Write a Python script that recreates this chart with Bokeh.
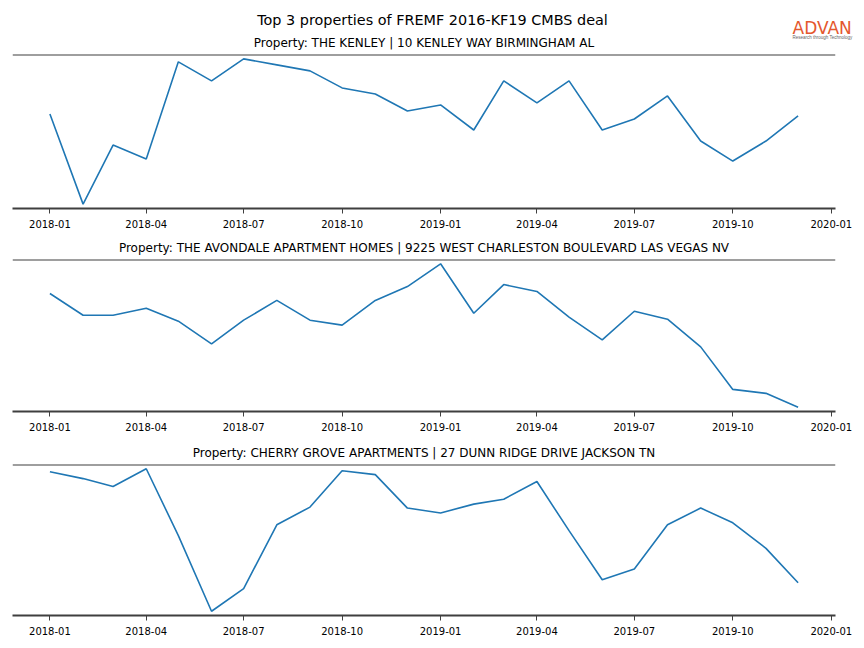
import pandas as pd
from bokeh.plotting import figure
from bokeh.models import Range1d, FixedTicker, DatetimeTickFormatter, Span, Label
from bokeh.layouts import column, row
from bokeh.embed import file_html
from bokeh.resources import INLINE

suptitle = "Top 3 properties of FREMF 2016-KF19 CMBS deal"
logo_text = "ADVAN"
logo_tagline = "Research through Technology"
months = ["2018-01", "2018-02", "2018-03", "2018-04", "2018-05", "2018-06",
          "2018-07", "2018-08", "2018-09", "2018-10", "2018-11", "2018-12",
          "2019-01", "2019-02", "2019-03", "2019-04", "2019-05", "2019-06",
          "2019-07", "2019-08", "2019-09", "2019-10", "2019-11", "2019-12"]
tick_labels = ["2018-01", "2018-04", "2018-07", "2018-10", "2019-01",
               "2019-04", "2019-07", "2019-10", "2020-01"]

titles = ["Property: THE KENLEY | 10 KENLEY WAY BIRMINGHAM AL",
          "Property: THE AVONDALE APARTMENT HOMES | 9225 WEST CHARLESTON BOULEVARD LAS VEGAS NV",
          "Property: CHERRY GROVE APARTMENTS | 27 DUNN RIDGE DRIVE JACKSON TN"]

kenley = [94, 4, 63, 49, 146, 127, 149, 143, 137, 120, 114, 97,
          103, 78, 127, 105, 127, 78, 89, 112, 67, 47, 67, 92]
avondale = [118, 96, 96, 103, 90, 67, 91, 111, 91, 86, 111, 125,
            148, 98, 127, 120, 94, 71, 100, 92, 64, 21, 17, 3]
cherry = [145, 138, 130, 148, 80, 3, 26, 91, 109, 146, 142, 108,
          103, 112, 117, 135, 85, 35, 46, 91, 108, 93, 67, 32]
series = [kenley, avondale, cherry]

dates = pd.to_datetime(months)
pad = (dates.max() - dates.min()) * 0.05
x_start = (dates.min() - pad).timestamp() * 1000
x_end = (dates.max() + pad).timestamp() * 1000
tick_ms = [pd.Timestamp(t).timestamp() * 1000 for t in tick_labels]

FONT = "DejaVu Sans"
SPINE = "#3f3f3f"
W = 860
HEADER_H = 50

# header: overall title, first subplot title and logo (all inside its frame)
hdr = figure(width=W, height=HEADER_H, x_range=Range1d(0, W), y_range=Range1d(HEADER_H, 0),
             output_backend="svg", toolbar_location=None, min_border=0)
hdr.title.visible = False
hdr.axis.visible = False
hdr.grid.visible = False
hdr.outline_line_color = None
hdr.add_layout(Label(x=432, y=19, x_units="canvas", y_units="canvas", text=suptitle,
                     text_font=FONT, text_font_size="14.4px", text_align="center",
                     text_baseline="middle", text_color="black"))
hdr.add_layout(Label(x=423.5, y=42, x_units="canvas", y_units="canvas", text=titles[0],
                     text_font=FONT, text_font_size="12px", text_align="center",
                     text_baseline="middle", text_color="black"))
hdr.add_layout(Label(x=792, y=27, x_units="canvas", y_units="canvas", text=logo_text,
                     text_font=FONT, text_font_size="17px", text_baseline="middle",
                     text_color="#e4572e"))
hdr.add_layout(Label(x=792, y=37, x_units="canvas", y_units="canvas", text=logo_tagline,
                     text_font="Liberation Sans", text_font_size="4.5px",
                     text_baseline="middle", text_color="#666666"))

heights = [180, 204, 206]
tops = [4, 29, 30]
bottoms = [22, 23, 25]

figs = []
for i, (vals, ttl) in enumerate(zip(series, titles)):
    lo, hi = min(vals), max(vals)
    yp = (hi - lo) * 0.03
    p = figure(width=W, height=heights[i], x_axis_type="datetime",
               x_range=Range1d(x_start, x_end), y_range=Range1d(lo - yp, hi + yp),
               output_backend="svg", toolbar_location=None,
               min_border_left=12, min_border_right=25,
               min_border_top=tops[i], min_border_bottom=bottoms[i])
    if i == 0:
        p.title.visible = False
    else:
        p.title.text = ttl
        p.title.align = "center"
        p.title.text_font = FONT
        p.title.text_font_size = "12px"
        p.title.text_font_style = "normal"
        p.title.text_color = "black"
        p.title.standoff = 9
    p.line(dates, vals, line_color="#1f77b4", line_width=1.6)
    p.yaxis.visible = False
    p.xgrid.visible = False
    p.ygrid.visible = False
    p.outline_line_color = None
    ax = p.xaxis[0]
    ax.ticker = FixedTicker(ticks=tick_ms)
    ax.formatter = DatetimeTickFormatter(
        milliseconds="%Y-%m", seconds="%Y-%m", minsec="%Y-%m", minutes="%Y-%m",
        hourmin="%Y-%m", hours="%Y-%m", days="%Y-%m", months="%Y-%m", years="%Y-%m")
    ax.axis_line_color = SPINE
    ax.axis_line_width = 2
    ax.major_tick_line_color = SPINE
    ax.major_tick_out = 5
    ax.major_tick_in = 0
    ax.minor_tick_line_color = None
    ax.major_label_text_font = FONT
    ax.major_label_text_font_size = "10px"
    ax.major_label_text_color = "black"
    ax.major_label_standoff = 6
    p.add_layout(Span(location=hi + yp, dimension="width", line_color=SPINE, line_width=2))
    figs.append(p)

layout = column(row(hdr), column(*figs, spacing=0), spacing=0)
open("out.html", "w").write(file_html(layout, INLINE))
